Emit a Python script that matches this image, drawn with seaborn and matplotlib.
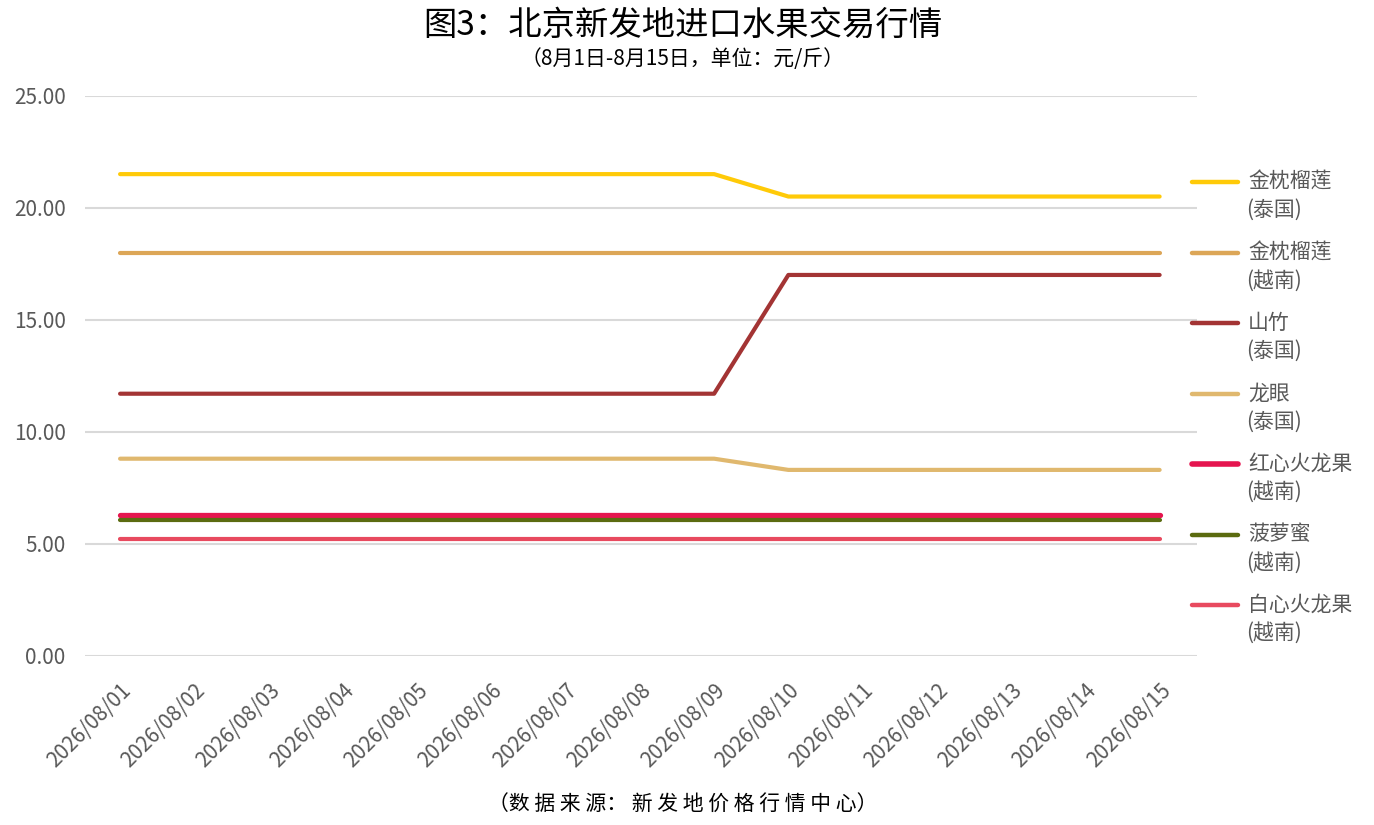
import matplotlib
matplotlib.use("Agg")
import matplotlib.pyplot as plt
from matplotlib.lines import Line2D
import pandas as pd
import seaborn as sns

DATES = ["2026/08/%02d" % d for d in range(1, 16)]

SERIES_NAMES = [
    "金枕榴莲\n(泰国)",
    "金枕榴莲\n(越南)",
    "山竹\n(泰国)",
    "龙眼\n(泰国)",
    "红心火龙果\n(越南)",
    "菠萝蜜\n(越南)",
    "白心火龙果\n(越南)",
]

durian_th = [21.5] * 9 + [20.5] * 6
durian_vn = [18.0] * 15
mangosteen_th = [11.7] * 9 + [17.0] * 6
longan_th = [8.8] * 9 + [8.3] * 6
red_dragon_vn = [6.3] * 15
jackfruit_vn = [6.05] * 15
white_dragon_vn = [5.2] * 15

COLORS = ["#FFCA08", "#DCA657", "#A33434", "#E0B86E", "#E5154F", "#5B6B10", "#E84A5F"]
WIDTHS = [3.0, 3.0, 3.0, 3.0, 3.8, 3.0, 3.0]

VALUES = [durian_th, durian_vn, mangosteen_th, longan_th,
          red_dragon_vn, jackfruit_vn, white_dragon_vn]

sns.set_theme(style="white")
plt.rcParams["font.family"] = ["Noto Sans CJK SC", "DejaVu Sans"]

fig = plt.figure(figsize=(13.74, 8.25), dpi=100)
ax = fig.add_axes([0.062, 0.205, 0.809, 0.679])

for name, vals, col, lw in zip(SERIES_NAMES, VALUES, COLORS, WIDTHS):
    df = pd.DataFrame({"date": DATES, "price": vals})
    sns.lineplot(data=df, x="date", y="price", ax=ax, color=col,
                 linewidth=lw, solid_capstyle="round")

ax.set_ylim(0, 25)
ax.set_xlim(-0.47, 14.5)
ax.set_yticks([0, 5, 10, 15, 20, 25])
ax.set_yticklabels(["%.2f" % v for v in [0, 5, 10, 15, 20, 25]])
ax.yaxis.grid(True, color="#D9D9D9", linewidth=1.5)
ax.set_axisbelow(True)
for s in ax.spines.values():
    s.set_visible(False)
ax.tick_params(axis="both", length=0, colors="#595959", labelsize=15)
ax.tick_params(axis="y", pad=14)
ax.tick_params(axis="x", pad=17)
plt.setp(ax.get_xticklabels(), rotation=45, ha="right", rotation_mode="anchor")
ax.set_xlabel("")
ax.set_ylabel("")

# legend on the right, handle level with the first text line
W, H = 1374.0, 825.0
for i, (name, col) in enumerate(zip(SERIES_NAMES, COLORS)):
    y = 1 - (182 + i * 70.5) / H
    fig.add_artist(Line2D([1192 / W, 1238 / W], [y, y], color=col,
                          linewidth=WIDTHS[i] + 0.2, solid_capstyle="round"))
    first, second = name.split("\n")
    fig.text(1248 / W, y, first, ha="left", va="center", fontsize=15,
             color="#595959")
    fig.text(1246 / W, y - 28 / H, second, ha="left", va="center",
             fontsize=15, color="#595959")

fig.text(0.497, 0.969, "图3：北京新发地进口水果交易行情", ha="center", va="center",
         fontsize=24, color="#000000")
fig.text(0.497, 0.928, "（8月1日-8月15日，单位：元/斤）", ha="center", va="center",
         fontsize=15, color="#000000")
fig.text(0.497, 0.024, "（数 据 来 源： 新 发 地 价 格 行 情 中 心）", ha="center",
         va="center", fontsize=15, color="#000000")

fig.savefig("out.png", dpi=100)
